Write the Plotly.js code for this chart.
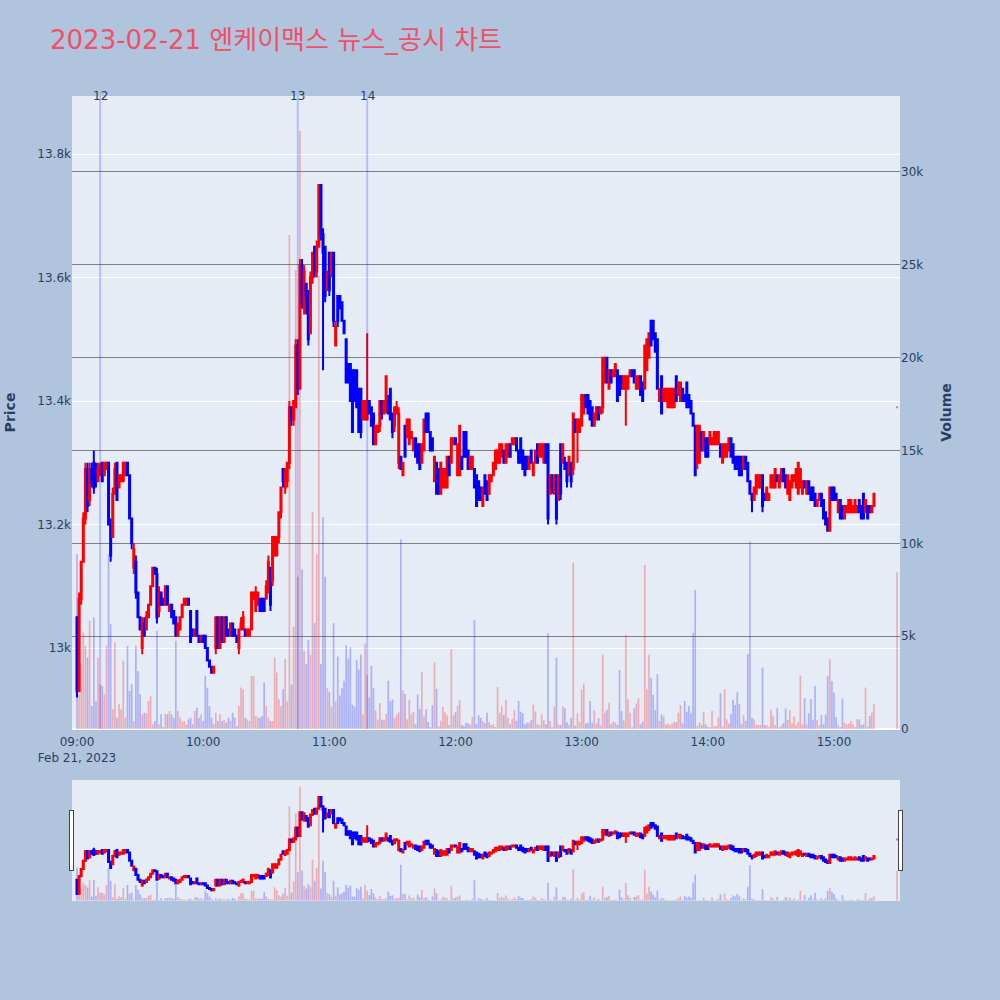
<!DOCTYPE html>
<html>
<head>
<meta charset="utf-8">
<script src="https://cdn.plot.ly/plotly-3.0.1.min.js"></script>
<style>
  html, body { margin: 0; padding: 0; background: #b0c4de; }
  #chart { width: 1000px; height: 1000px; }
</style>
</head>
<body>
<div id="chart"></div>
<script>
// 1-minute candles from 09:00 to 15:19, plus the 15:30 closing auction (last entry)
const day = "2023-02-21";
const sessionMinutes = 380;
const auctionTime = "15:30";

const openPrice = [
  13050,12930,13080,13140,13210,13290,13240,13290,13300,13280,
  13270,13280,13300,13280,13290,13300,13200,13180,13250,13300,
  13260,13270,13270,13280,13300,13280,13210,13130,13140,13090,
  13050,13000,13040,13030,13050,13070,13100,13130,13120,13060,
  13090,13080,13070,13100,13060,13070,13060,13050,13020,13030,
  13050,13070,13070,13080,13060,13030,13020,13060,13020,13010,
  13020,13020,13000,12980,12970,12960,13000,13050,13000,13050,
  13010,13050,13030,13020,13040,13030,13020,13000,13030,13030,
  13030,13020,13020,13030,13080,13060,13070,13080,13080,13080,
  13080,13090,13130,13110,13150,13150,13180,13220,13290,13260,
  13270,13300,13390,13370,13390,13490,13420,13620,13550,13590,
  13570,13510,13600,13650,13610,13650,13750,13670,13650,13580,
  13640,13610,13640,13490,13570,13570,13560,13530,13500,13460,
  13460,13450,13450,13450,13420,13420,13370,13370,13370,13400,
  13390,13380,13330,13350,13360,13400,13380,13390,13400,13420,
  13380,13360,13380,13300,13310,13280,13360,13350,13330,13340,
  13320,13340,13330,13330,13300,13320,13380,13380,13350,13340,
  13270,13300,13290,13250,13260,13260,13260,13310,13300,13330,
  13340,13280,13280,13310,13350,13350,13320,13290,13290,13290,
  13280,13270,13260,13230,13280,13270,13250,13270,13280,13290,
  13300,13300,13310,13320,13300,13310,13330,13330,13330,13340,
  13320,13340,13320,13310,13310,13290,13320,13280,13300,13330,
  13310,13310,13300,13330,13330,13250,13280,13250,13280,13240,
  13330,13300,13300,13300,13280,13300,13290,13370,13350,13350,
  13360,13380,13410,13410,13400,13390,13360,13370,13390,13380,
  13390,13430,13470,13420,13450,13440,13440,13450,13440,13440,
  13420,13420,13420,13440,13450,13450,13420,13420,13440,13430,
  13420,13450,13470,13530,13530,13510,13500,13400,13440,13400,
  13400,13390,13390,13390,13390,13440,13410,13400,13420,13410,
  13430,13410,13400,13380,13360,13300,13300,13350,13320,13340,
  13340,13330,13330,13330,13330,13330,13330,13300,13310,13310,
  13320,13340,13330,13310,13310,13310,13310,13290,13310,13300,
  13270,13250,13240,13250,13260,13260,13280,13250,13240,13240,
  13260,13260,13260,13280,13260,13270,13290,13280,13250,13240,
  13260,13270,13260,13250,13260,13250,13270,13250,13270,13260,
  13260,13250,13230,13240,13250,13240,13220,13210,13190,13260,
  13260,13250,13220,13240,13230,13210,13220,13220,13220,13220,
  13220,13220,13240,13230,13250,13220,13230,13230,13220,13230,
  13390
];

const highPrice = [
  13050,13090,13140,13220,13300,13300,13300,13300,13320,13300,
  13300,13300,13300,13300,13300,13300,13210,13260,13300,13300,
  13280,13280,13300,13300,13300,13280,13210,13170,13150,13090,
  13050,13050,13050,13060,13070,13100,13130,13130,13130,13100,
  13090,13080,13100,13100,13070,13070,13060,13050,13040,13050,
  13070,13080,13080,13080,13060,13030,13030,13060,13020,13020,
  13020,13020,13000,12980,12970,12970,13050,13050,13050,13050,
  13050,13050,13030,13040,13040,13030,13020,13030,13050,13060,
  13030,13030,13030,13090,13090,13100,13090,13080,13080,13080,
  13110,13150,13130,13180,13180,13180,13220,13260,13290,13290,
  13300,13400,13390,13400,13500,13500,13630,13630,13620,13590,
  13580,13610,13640,13650,13660,13750,13750,13680,13650,13610,
  13640,13640,13640,13530,13570,13570,13560,13530,13500,13460,
  13460,13450,13450,13450,13420,13420,13400,13400,13510,13400,
  13390,13380,13360,13360,13400,13400,13400,13440,13410,13420,
  13380,13390,13400,13390,13310,13300,13360,13370,13370,13350,
  13340,13340,13330,13330,13330,13370,13380,13380,13350,13340,
  13310,13300,13290,13300,13290,13290,13310,13310,13340,13340,
  13340,13330,13360,13310,13350,13350,13320,13310,13310,13290,
  13280,13270,13260,13260,13280,13270,13280,13280,13300,13320,
  13320,13330,13330,13320,13330,13330,13330,13340,13340,13340,
  13320,13340,13320,13310,13310,13310,13320,13300,13320,13330,
  13330,13330,13330,13330,13330,13280,13280,13280,13280,13280,
  13330,13330,13310,13300,13310,13300,13380,13370,13370,13370,
  13410,13410,13410,13410,13400,13390,13380,13390,13390,13390,
  13470,13470,13470,13450,13450,13450,13460,13450,13440,13440,
  13440,13440,13440,13450,13450,13450,13440,13440,13440,13430,
  13490,13500,13510,13530,13530,13510,13500,13420,13440,13420,
  13420,13420,13420,13420,13420,13440,13430,13430,13420,13410,
  13430,13410,13400,13380,13360,13360,13360,13350,13350,13340,
  13340,13350,13340,13350,13350,13350,13330,13330,13330,13330,
  13340,13340,13330,13310,13310,13310,13310,13310,13310,13300,
  13270,13250,13260,13280,13280,13280,13280,13250,13260,13250,
  13280,13280,13290,13280,13280,13290,13290,13280,13280,13270,
  13280,13280,13290,13300,13290,13270,13270,13270,13270,13260,
  13260,13250,13240,13250,13250,13240,13220,13210,13260,13260,
  13260,13250,13240,13240,13230,13230,13230,13240,13240,13230,
  13240,13230,13240,13230,13250,13240,13230,13230,13230,13250,
  13390
];

const lowPrice = [
  12920,12930,13070,13140,13200,13220,13230,13260,13250,13260,
  13270,13280,13270,13280,13290,13200,13140,13180,13250,13240,
  13260,13270,13270,13280,13280,13210,13160,13120,13080,13050,
  13030,12990,13020,13030,13050,13070,13100,13120,13040,13050,
  13070,13070,13070,13070,13060,13050,13040,13020,13020,13030,
  13050,13070,13070,13070,13010,13020,13020,13020,13010,13010,
  13010,13000,12980,12970,12960,12960,12990,13000,13000,13010,
  13010,13020,13020,13020,13020,13020,13010,12990,13030,13030,
  13020,13020,13020,13030,13080,13060,13070,13060,13060,13060,
  13080,13090,13060,13100,13150,13150,13170,13210,13260,13250,
  13260,13290,13360,13360,13390,13410,13420,13550,13540,13540,
  13490,13510,13590,13600,13600,13650,13660,13450,13560,13580,
  13570,13600,13520,13490,13520,13550,13530,13510,13430,13430,
  13400,13350,13400,13390,13350,13340,13370,13370,13370,13380,
  13360,13330,13330,13350,13350,13370,13380,13380,13380,13370,
  13340,13350,13380,13290,13290,13280,13310,13340,13330,13340,
  13320,13310,13300,13290,13300,13320,13350,13350,13320,13320,
  13270,13250,13250,13250,13260,13260,13260,13280,13300,13330,
  13330,13280,13280,13290,13310,13310,13290,13290,13290,13260,
  13230,13240,13240,13230,13250,13240,13250,13270,13280,13290,
  13300,13300,13310,13300,13300,13310,13310,13330,13330,13320,
  13300,13300,13290,13280,13290,13290,13300,13280,13300,13300,
  13310,13310,13300,13300,13200,13250,13250,13250,13200,13240,
  13240,13300,13290,13260,13280,13260,13280,13350,13300,13350,
  13360,13380,13390,13380,13370,13360,13360,13370,13370,13380,
  13380,13430,13430,13420,13430,13440,13440,13400,13410,13420,
  13420,13360,13420,13440,13440,13430,13420,13420,13410,13400,
  13420,13450,13470,13490,13500,13480,13420,13400,13380,13400,
  13400,13390,13390,13390,13390,13400,13410,13400,13400,13400,
  13390,13390,13380,13360,13280,13290,13300,13320,13320,13310,
  13310,13330,13330,13330,13330,13330,13310,13300,13310,13310,
  13320,13310,13300,13290,13290,13280,13280,13290,13290,13270,
  13250,13220,13240,13250,13260,13260,13220,13240,13240,13240,
  13260,13260,13260,13270,13260,13270,13270,13260,13250,13240,
  13260,13270,13260,13250,13260,13250,13260,13250,13250,13240,
  13240,13230,13230,13240,13230,13210,13200,13190,13190,13240,
  13240,13240,13220,13210,13210,13210,13220,13220,13220,13220,
  13220,13220,13220,13210,13210,13220,13210,13220,13220,13230,
  13390
];

const closePrice = [
  12930,13080,13140,13210,13290,13230,13290,13270,13260,13270,
  13290,13290,13270,13300,13300,13200,13150,13250,13290,13240,
  13280,13280,13300,13300,13280,13210,13170,13160,13090,13050,
  13030,13040,13020,13050,13070,13100,13130,13120,13050,13090,
  13070,13070,13100,13070,13070,13050,13040,13020,13040,13050,
  13070,13080,13080,13070,13010,13020,13030,13020,13010,13020,
  13010,13000,12980,12970,12960,12970,13050,13000,13050,13010,
  13050,13020,13020,13040,13020,13020,13010,13030,13040,13050,
  13020,13030,13030,13090,13090,13090,13090,13060,13060,13060,
  13100,13140,13070,13180,13180,13180,13220,13260,13270,13290,
  13300,13390,13370,13400,13490,13420,13620,13560,13610,13570,
  13500,13600,13640,13610,13650,13750,13670,13640,13570,13610,
  13580,13640,13530,13520,13530,13550,13530,13510,13430,13430,
  13400,13350,13400,13390,13350,13350,13400,13400,13400,13380,
  13360,13330,13360,13360,13400,13380,13400,13440,13380,13370,
  13350,13390,13390,13380,13290,13300,13310,13370,13370,13350,
  13340,13310,13300,13290,13330,13370,13350,13350,13320,13320,
  13310,13250,13250,13300,13290,13290,13310,13280,13340,13340,
  13330,13330,13360,13290,13310,13310,13290,13310,13310,13260,
  13230,13240,13240,13260,13250,13240,13280,13280,13300,13320,
  13320,13330,13330,13300,13330,13330,13310,13340,13340,13320,
  13300,13300,13290,13280,13290,13310,13300,13300,13320,13300,
  13330,13330,13330,13300,13210,13280,13260,13280,13210,13280,
  13250,13330,13290,13270,13310,13270,13380,13350,13370,13370,
  13410,13410,13390,13380,13370,13360,13380,13390,13370,13390,
  13470,13470,13430,13450,13430,13450,13460,13400,13410,13420,
  13440,13440,13440,13450,13440,13430,13440,13440,13410,13400,
  13490,13500,13510,13490,13500,13480,13420,13420,13380,13420,
  13420,13420,13420,13420,13420,13400,13430,13430,13400,13400,
  13390,13390,13380,13360,13280,13360,13360,13320,13350,13310,
  13310,13350,13340,13350,13350,13350,13310,13330,13330,13330,
  13340,13310,13300,13290,13290,13280,13280,13310,13290,13270,
  13250,13240,13260,13280,13280,13280,13230,13240,13260,13250,
  13280,13280,13290,13270,13280,13290,13270,13260,13280,13270,
  13280,13280,13290,13300,13290,13270,13260,13270,13250,13240,
  13240,13230,13240,13250,13230,13210,13200,13190,13260,13240,
  13240,13240,13240,13210,13210,13230,13230,13240,13240,13230,
  13240,13230,13220,13210,13210,13240,13210,13220,13230,13250,
  13390
];

const volume = [
  9430,1870,3490,5200,4480,3850,5830,1240,6010,1510,
  3850,2410,2320,1870,4480,9400,5650,1060,4660,610,
  1330,1060,3670,610,4480,2050,2410,430,4480,3130,
  1870,790,880,830,1510,1780,250,430,5290,250,
  790,110,830,790,970,790,610,4750,970,610,
  400,430,250,520,610,250,970,1150,610,790,
  430,2860,2230,1240,610,250,880,430,790,430,
  470,340,610,430,880,610,160,1240,2230,2140,
  610,520,430,2860,2860,700,610,610,700,2500,
  1240,610,430,430,3850,3040,1600,1240,2140,3760,
  1500,26600,2400,5500,24700,8200,32200,8600,4200,3500,
  4800,4000,11700,5700,9400,24400,3500,11400,8200,2200,
  2000,1200,5700,1500,3900,1800,2200,2600,4500,3800,
  4400,1300,1200,3700,3200,4000,800,4600,2900,1700,
  3400,2200,1000,500,1400,500,500,800,2600,1500,
  1600,600,800,900,10200,2070,1890,520,1580,790,
  920,250,1870,1080,3080,670,1060,380,100,1280,
  3580,2160,130,450,1190,900,740,220,4300,740,
  920,1240,1550,220,160,340,300,250,650,5870,
  250,740,610,430,320,880,380,220,250,110,
  2270,880,1220,760,1570,610,250,540,1030,430,
  1510,920,850,250,340,340,470,1310,940,250,
  200,790,470,250,5150,430,100,1210,3850,250,
  220,1220,1120,360,220,610,8950,180,850,380,
  2120,2450,290,320,1510,340,1010,290,580,220,
  4000,880,1040,1420,250,410,360,220,3170,970,
  470,5080,1600,880,100,1120,1370,1660,250,400,
  8840,2140,4000,2740,1840,1030,2950,430,790,680,
  250,300,220,300,380,360,880,1280,300,1510,
  920,1240,880,5180,7490,160,360,220,920,250,
  110,100,970,130,160,610,1930,130,2140,520,
  300,790,1580,1300,1980,1330,250,740,430,4030,
  10100,610,520,250,220,220,3310,220,220,100,
  1030,720,220,1120,110,220,320,1100,500,1010,
  300,670,220,380,2880,250,1660,250,850,1600,
  470,2320,490,220,740,250,790,2860,3760,2590,
  1960,650,220,100,1640,340,250,300,430,250,
  100,520,520,220,250,2230,130,700,880,1330,
  8440
];

// news / disclosure markers
const newsTimes = ["09:11", "10:45", "11:18"];
const newsLabels = ["12", "13", "14"];

const pad = (n) => String(n).padStart(2, "0");
const times = [];
for (let i = 0; i < sessionMinutes; i++) {
  const h = 9 + Math.floor(i / 60);
  times.push(`${day} ${pad(h)}:${pad(i % 60)}`);
}
times.push(`${day} ${auctionTime}`);

const volColors = closePrice.map((c, i) =>
  c >= openPrice[i] ? "rgba(255,0,0,0.27)" : "rgba(0,0,255,0.25)"
);

const xRange = [`${day} 08:57:37`, `${day} 15:31:23`];
const inkColor = "#2a3f5f";
const baseFont = "DejaVu Sans, Verdana, Noto Sans CJK KR, sans-serif";

const data = [
  {
    type: "candlestick",
    x: times,
    open: openPrice,
    high: highPrice,
    low: lowPrice,
    close: closePrice,
    increasing: { line: { color: "red", width: 2 }, fillcolor: "red" },
    decreasing: { line: { color: "blue", width: 2 }, fillcolor: "blue" },
    showlegend: false,
    hoverinfo: "skip",
  },
  {
    type: "bar",
    x: times,
    y: volume,
    yaxis: "y2",
    marker: { color: volColors },
    showlegend: false,
    hoverinfo: "skip",
  },
];

const layout = {
  width: 1000,
  height: 1000,
  paper_bgcolor: "#b0c4de",
  plot_bgcolor: "#e5ecf6",
  margin: { l: 72, r: 100, t: 96, b: 100 },
  font: { family: baseFont, size: 12, color: inkColor },
  title: {
    text: "2023-02-21 엔케이맥스 뉴스_공시 차트",
    x: 0.05,
    xanchor: "left",
    y: 0.96,
    yanchor: "middle",
    font: { family: baseFont, size: 26, color: "rgb(240,80,100)" },
  },
  showlegend: false,
  bargap: 0.2,
  xaxis: {
    type: "date",
    range: xRange,
    showgrid: false,
    dtick: 3600000,
    tick0: `${day} 09:00`,
    ticklabelstandoff: 4,
    tickfont: { size: 12, color: inkColor },
    rangeslider: { visible: true, range: xRange, bgcolor: "#e5ecf6", thickness: 0.15 },
  },
  yaxis: {
    title: { text: "<b>Price</b>", font: { size: 14, color: inkColor }, standoff: 18 },
    range: [12869, 13894],
    dtick: 200,
    gridcolor: "white",
    gridwidth: 1,
    zeroline: false,
    tickfont: { size: 12, color: inkColor },
  },
  yaxis2: {
    title: { text: "<b>Volume</b>", font: { size: 14, color: inkColor }, standoff: 18 },
    overlaying: "y",
    side: "right",
    range: [0, 34090],
    dtick: 5000,
    gridcolor: "gray",
    gridwidth: 1,
    zeroline: true,
    zerolinecolor: "white",
    zerolinewidth: 2,
    tickfont: { size: 12, color: inkColor },
  },
  shapes: newsTimes.map((t) => ({
    type: "line",
    xref: "x",
    yref: "paper",
    x0: `${day} ${t}`,
    x1: `${day} ${t}`,
    y0: 0,
    y1: 1,
    line: { color: "rgba(0,0,255,0.2)", width: 2 },
  })),
  annotations: newsTimes.map((t, i) => ({
    x: `${day} ${t}`,
    xref: "x",
    y: 1,
    yref: "paper",
    yanchor: "middle",
    text: newsLabels[i],
    showarrow: false,
    font: { size: 12, color: inkColor },
  })),
};

Plotly.newPlot("chart", data, layout, { staticPlot: true });
</script>
</body>
</html>
